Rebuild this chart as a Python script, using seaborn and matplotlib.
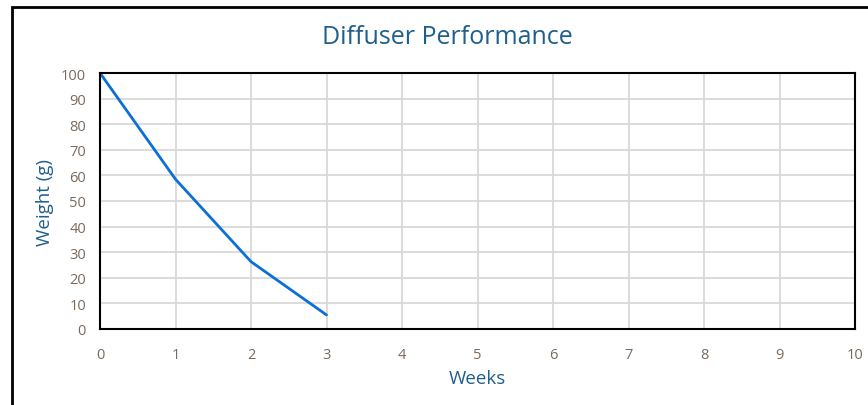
import matplotlib
matplotlib.use("Agg")
import matplotlib.pyplot as plt
import seaborn as sns
import pandas as pd
from matplotlib.patches import Rectangle

# values
weeks = [0, 1, 2, 3]
weight = [100, 58.5, 26.3, 5.5]

sns.set_style("white")
plt.rcParams['font.family'] = ['Open Sans', 'DejaVu Sans']

df = pd.DataFrame({"Weeks": weeks, "Weight (g)": weight})

fig = plt.figure(figsize=(8.68, 4.06), dpi=100)
ax = fig.add_axes([100 / 868, 1 - 330 / 406, 755 / 868, 256 / 406])

sns.lineplot(data=df, x="Weeks", y="Weight (g)", ax=ax, color="#0B6FD6", linewidth=2)

ax.set_xlim(0, 10)
ax.set_ylim(0, 100)
ax.set_xticks(range(0, 11))
ax.set_yticks(range(0, 101, 10))
ax.grid(True, color="#D9D9D9", linewidth=1.3)
ax.set_axisbelow(True)
for s in ax.spines.values():
    s.set_color("black")
    s.set_linewidth(1.5)
ax.tick_params(axis="both", direction="out", length=5, width=1.5, color="black",
               labelcolor="#7A6A5C", labelsize=10.5, pad=5)
ax.tick_params(axis="x", pad=8)

tc = "#1F5F8B"
ax.set_xlabel("Weeks", color=tc, fontsize=13.5, labelpad=5)
ax.set_ylabel("Weight (g)", color=tc, fontsize=13.5, labelpad=5)
fig.text(447 / 868, 1 - 37 / 406, "Diffuser Performance", color=tc, fontsize=18,
         ha="center", va="center")

# outer chart border (continues past right/bottom edges)
fig.patches.append(Rectangle((12 / 868, -0.1), 1.1, 1 - 8 / 406 + 0.1,
                             transform=fig.transFigure, fill=False,
                             edgecolor="black", linewidth=2))

fig.savefig("out.png", dpi=100)
